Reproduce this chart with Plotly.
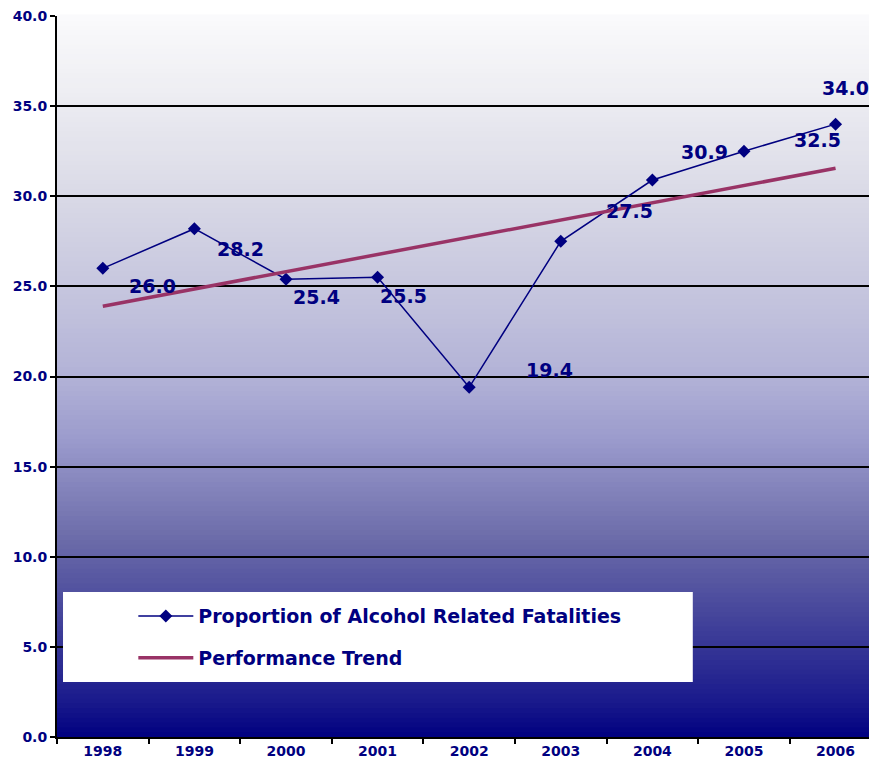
import plotly.graph_objects as go

# ---- data ----
years = ["1998", "1999", "2000", "2001", "2002", "2003", "2004", "2005", "2006"]
proportion = [26.0, 28.2, 25.4, 25.5, 19.4, 27.5, 30.9, 32.5, 34.0]
trend_years = ["1998", "2006"]
trend_values = [23.9, 31.55]

# ---- styles ----
NAVY = "#000080"
PLUM = "#993366"
FONT = "DejaVu Sans"
label_offsets = [(50, -18), (46, -20), (31, -18), (26, -19), (80, 17),
                 (69, 30), (52, 28), (74, 11), (10, 36)]

# gradient stops (paper y from bottom, rgb)
stops = [
    (0.00, (0, 0, 128)),
    (0.05, (26, 26, 140)),
    (0.16, (66, 66, 154)),
    (0.27, (106, 106, 168)),
    (0.41, (154, 154, 204)),
    (0.49, (176, 176, 214)),
    (0.62, (198, 198, 222)),
    (0.75, (217, 217, 230)),
    (0.89, (237, 237, 242)),
    (1.00, (250, 250, 252)),
]


def color_at(t):
    for (t0, c0), (t1, c1) in zip(stops[:-1], stops[1:]):
        if t0 <= t <= t1:
            f = (t - t0) / (t1 - t0) if t1 > t0 else 0
            return "rgb(%d,%d,%d)" % tuple(round(a + (b - a) * f) for a, b in zip(c0, c1))
    return "rgb(250,250,252)"


shapes = []
N = 150
for i in range(N):
    y0 = i / N
    y1 = (i + 1) / N
    shapes.append(dict(type="rect", xref="paper", yref="paper", x0=0, x1=1,
                       y0=y0, y1=y1 + 0.002, fillcolor=color_at((y0 + y1) / 2),
                       line=dict(width=0), layer="below"))

# legend white box
shapes.append(dict(type="rect", xref="paper", yref="paper",
                   x0=0.0074, x1=0.783, y0=0.0763, y1=0.201,
                   fillcolor="white", line=dict(width=0), layer="above"))

fig = go.Figure()
fig.add_trace(go.Scatter(
    x=years, y=proportion, mode="lines+markers",
    name="Proportion of Alcohol Related Fatalities",
    line=dict(color=NAVY, width=1.5),
    marker=dict(symbol="diamond", size=10, color=NAVY),
    legendgroup="a",
))
fig.add_trace(go.Scatter(
    x=trend_years, y=trend_values, mode="lines",
    name="Performance Trend",
    line=dict(color=PLUM, width=3.5),
    legendgroup="b",
))

annotations = []
for i, (v, (dx, dy)) in enumerate(zip(proportion, label_offsets)):
    annotations.append(dict(x=i, y=v, xref="x", yref="y", text=f"{v:.1f}",
                            showarrow=False, xshift=dx, yshift=dy,
                            font=dict(family=FONT, size=19, color=NAVY, weight="bold")))

fig.update_layout(
    width=869, height=766,
    margin=dict(l=57, r=0, t=16, b=29),
    paper_bgcolor="white",
    plot_bgcolor="rgba(0,0,0,0)",
    shapes=shapes,
    annotations=annotations,
    showlegend=True,
    legend=dict(x=0.094, y=0.194, xanchor="left", yanchor="top",
                bgcolor="rgba(0,0,0,0)",
                font=dict(family=FONT, size=19, color=NAVY, weight="bold"),
                traceorder="grouped", tracegroupgap=14, itemwidth=55),
    xaxis=dict(type="category", categoryorder="array", categoryarray=years,
               range=[-0.5, 8.365], tickson="boundaries", ticks="outside",
               ticklen=5, tickcolor="black", tickwidth=2,
               showline=True, linecolor="black", linewidth=2,
               showgrid=False,
               tickfont=dict(family=FONT, size=14, color=NAVY, weight="bold")),
    yaxis=dict(range=[0, 40], dtick=5, tickformat=".1f", ticks="outside",
               ticklen=5, tickcolor="black", tickwidth=2,
               showline=True, linecolor="black", linewidth=2,
               showgrid=True, gridcolor="black", gridwidth=1.5,
               zeroline=False,
               tickfont=dict(family=FONT, size=14, color=NAVY, weight="bold")),
)

fig.write_html("out.html")
